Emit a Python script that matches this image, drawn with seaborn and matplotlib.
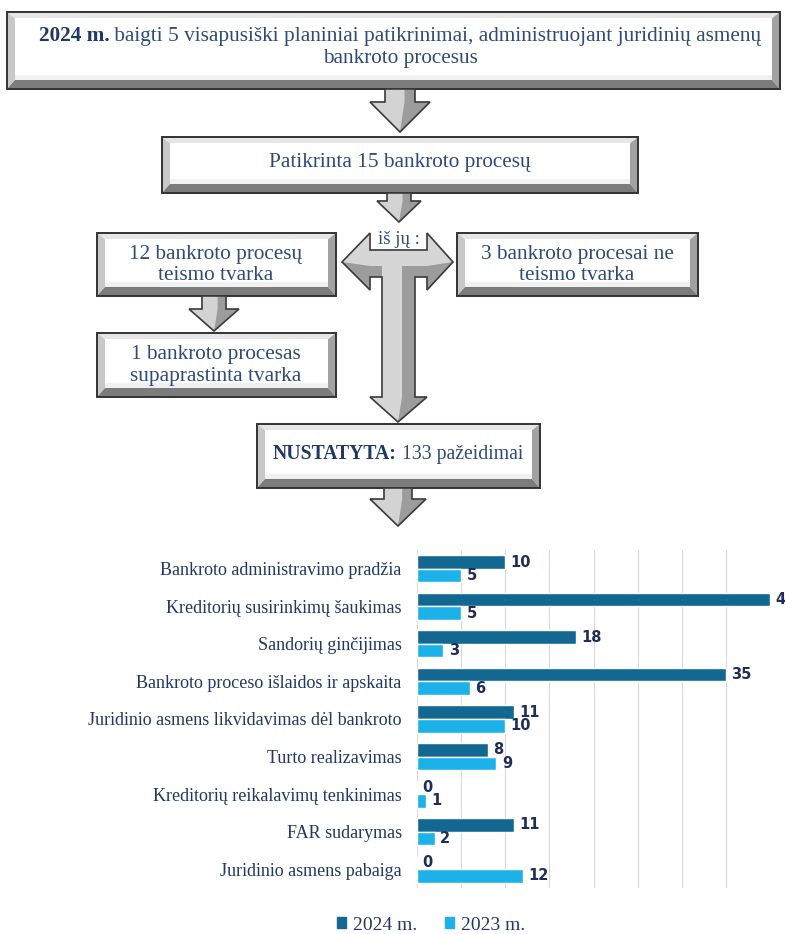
import numpy as np
import pandas as pd
import matplotlib
matplotlib.use('Agg')
import matplotlib.pyplot as plt
import seaborn as sns
from matplotlib.patches import Polygon, Rectangle, Patch

# chart data
categories = [
    'Bankroto administravimo pradžia',
    'Kreditorių susirinkimų šaukimas',
    'Sandorių ginčijimas',
    'Bankroto proceso išlaidos ir apskaita',
    'Juridinio asmens likvidavimas dėl bankroto',
    'Turto realizavimas',
    'Kreditorių reikalavimų tenkinimas',
    'FAR sudarymas',
    'Juridinio asmens pabaiga',
]
values_2024 = [10, 40, 18, 35, 11, 8, 0, 11, 0]
values_2023 = [5, 5, 3, 6, 10, 9, 1, 2, 12]
years = ['2024 m.', '2023 m.']

navy = '#1f3864'
text_blue = '#2d4b78'
dark_bar = '#136891'
light_bar = '#1db1ea'

sns.set_theme(style='white')
plt.rcParams['font.family'] = ['Liberation Serif', 'DejaVu Serif']

fig = plt.figure(figsize=(7.85, 9.34), dpi=100)

# overlay axes in pixel coordinates for the flowchart
fa = fig.add_axes([0, 0, 1, 1])
fa.set_xlim(0, 785)
fa.set_ylim(934, 0)
fa.axis('off')

FS = 15.3  # flowchart text size


def bevel_box(x0, y0, x1, y1, b=8, bb=9):
    ix0, iy0, ix1, iy1 = x0 + b, y0 + b * 0.8, x1 - b, y1 - bb
    fa.add_patch(Polygon([(x0, y0), (x1, y0), (ix1, iy0), (ix0, iy0)], color='#e6e6e6', lw=0))
    fa.add_patch(Polygon([(x0, y0), (ix0, iy0), (ix0, iy1), (x0, y1)], color='#c8c8c8', lw=0))
    fa.add_patch(Polygon([(x1, y0), (x1, y1), (ix1, iy1), (ix1, iy0)], color='#a2a2a2', lw=0))
    fa.add_patch(Polygon([(x0, y1), (ix0, iy1), (ix1, iy1), (x1, y1)], color='#7c7c7c', lw=0))
    fa.add_patch(Rectangle((ix0, iy0), ix1 - ix0, iy1 - iy0, color='white', lw=0))
    fa.add_patch(Rectangle((ix0, iy1 - 5), ix1 - ix0, 5, color='#f0f0f0', lw=0))
    fa.add_patch(Rectangle((x0, y0), x1 - x0, y1 - y0, fill=False, ec='#333333', lw=1.4))


def down_arrow(cx, y0, yh, y1, sw, hw):
    pts = [(cx - sw, y0), (cx + sw, y0), (cx + sw, yh), (cx + hw, yh), (cx, y1),
           (cx - hw, yh), (cx - sw, yh)]
    fa.add_patch(Polygon(pts, fc='#9c9c9c', ec='none'))
    half = [(cx - sw, y0), (cx + sw * 0.3, y0), (cx + sw * 0.3, yh), (cx, y1),
            (cx - hw, yh), (cx - sw, yh)]
    fa.add_patch(Polygon(half, fc='#d3d3d3', ec='none'))
    fa.add_patch(Polygon(pts, fill=False, ec='#3a3a3a', lw=1.2))


def mixed_line(x, y, parts, size):
    r = fig.canvas.get_renderer()
    texts = [fa.text(0, y, s, fontsize=size, fontweight=w, color=c, va='center', ha='left')
             for s, w, c in parts]
    widths = [t.get_window_extent(r).width for t in texts]
    cur = x - sum(widths) / 2
    for t, wd in zip(texts, widths):
        t.set_x(cur)
        cur += wd


def two_lines(x, y, lines, size=FS, gap=22):
    for i, s in enumerate(lines):
        fa.text(x, y + i * gap, s, fontsize=size, color=text_blue, ha='center', va='center')


# top box
bevel_box(7, 12, 780, 89)
mixed_line(400, 36, [('2024 m.', 'bold', navy),
                     (' baigti 5 visapusiški planiniai patikrinimai, administruojant juridinių asmenų',
                      'normal', text_blue)], FS)
fa.text(400, 58, 'bankroto procesus', fontsize=FS, color=text_blue, ha='center', va='center')

down_arrow(400, 89, 102, 132, 15, 30)

bevel_box(162, 137, 638, 193)
fa.text(400, 162, 'Patikrinta 15 bankroto procesų', fontsize=FS, color=text_blue,
        ha='center', va='center')

down_arrow(399, 193, 201, 222, 12, 22)

# T shaped double arrow
t_pts = [(342, 262), (370, 233), (370, 250), (427, 250), (427, 233), (453, 262),
         (427, 290), (427, 277), (415, 277), (415, 397), (427, 397), (398, 422),
         (370, 397), (382, 397), (382, 277), (370, 277), (370, 290)]
fa.add_patch(Polygon(t_pts, fc='#9c9c9c', ec='none'))
fa.add_patch(Polygon([(342, 262), (370, 233), (370, 250), (427, 250), (427, 233), (453, 262),
                      (427, 266), (370, 266)], fc='#d6d6d6', ec='none'))
fa.add_patch(Polygon([(382, 266), (402, 266), (402, 397), (398, 422), (370, 397), (382, 397)],
                     fc='#d6d6d6', ec='none'))
fa.add_patch(Polygon(t_pts, fill=False, ec='#3a3a3a', lw=1.2))
fa.text(399, 239, 'iš jų :', fontsize=13.5, color=text_blue, ha='center', va='center')

bevel_box(97, 233, 336, 296)
two_lines(216, 254, ['12 bankroto procesų', 'teismo tvarka'])

bevel_box(457, 233, 698, 296)
two_lines(577, 254, ['3 bankroto procesai ne', 'teismo tvarka'])

down_arrow(214, 296, 309, 331, 12, 25)

bevel_box(97, 333, 336, 397)
two_lines(216, 355, ['1 bankroto procesas', 'supaprastinta tvarka'])

bevel_box(257, 424, 540, 488)
mixed_line(398, 454, [('NUSTATYTA:', 'bold', navy), (' 133 pažeidimai', 'normal', text_blue)], 14.2)

down_arrow(398, 488, 499, 526, 14, 28)

# bar chart
df = pd.DataFrame({
    'Kategorija': categories * 2,
    'Metai': [years[0]] * len(categories) + [years[1]] * len(categories),
    'Pažeidimai': values_2024 + values_2023,
})

bx = fig.add_axes([417 / 785, 1 - 888 / 934, 353 / 785, 338 / 934])
bx.set_facecolor('none')
sns.barplot(data=df, y='Kategorija', x='Pažeidimai', hue='Metai', orient='h',
            palette=[dark_bar, light_bar], width=0.72, saturation=1, legend=False, ax=bx)
bx.set_xlim(0, 40)
bx.set_xticks(np.arange(0, 41, 5))
bx.grid(True, axis='x', color='#d9d9d9', lw=0.8)
bx.grid(False, axis='y')
bx.tick_params(axis='x', length=0, labelbottom=False)
bx.tick_params(axis='y', length=0, pad=11, labelsize=13, labelcolor=navy)
bx.set_xlabel('')
bx.set_ylabel('')
sns.despine(ax=bx, left=True, bottom=True)
for c in bx.containers:
    bx.bar_label(c, padding=4, fontsize=10.5, fontweight='bold', color='#1f2d5a',
                 family='DejaVu Sans', annotation_clip=False)

handles = [Patch(color=dark_bar, label=years[0]), Patch(color=light_bar, label=years[1])]
leg = fig.legend(handles=handles, loc='center', bbox_to_anchor=(431 / 785, 1 - 925 / 934),
                 ncol=2, frameon=False, fontsize=14, handlelength=0.5, handleheight=0.5,
                 handletextpad=0.35, columnspacing=1.4)
for t in leg.get_texts():
    t.set_color(navy)

fig.savefig('out.png', dpi=100)
